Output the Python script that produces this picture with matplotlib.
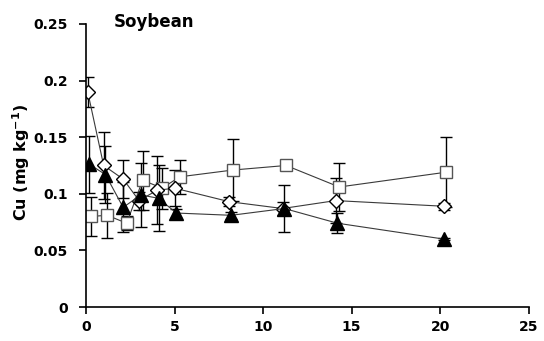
import matplotlib
matplotlib.use("Agg")
import matplotlib.pyplot as plt

plt.rcParams['font.family'] = ['DejaVu Sans']
plt.rcParams['font.weight'] = 'bold'
plt.rcParams['mathtext.default'] = 'bf'

x_diamond = [0.1, 1, 2.1, 3, 4, 5, 8.1, 11.1, 14.1, 20.2]
y_diamond = [0.190, 0.125, 0.113, 0.094, 0.103, 0.105, 0.093, 0.087, 0.094, 0.089]
e_diamond = [0.013, 0.030, 0.017, 0.008, 0.030, 0.016, 0.004, 0.006, 0.020, 0.003]

x_square = [0.3, 1.2, 2.3, 3.2, 4.3, 5.3, 8.3, 11.3, 14.3, 20.3]
y_square = [0.080, 0.081, 0.074, 0.112, 0.105, 0.115, 0.121, 0.125, 0.106, 0.119]
e_square = [0.017, 0.020, 0.006, 0.026, 0.018, 0.015, 0.027, 0.004, 0.021, 0.031]

x_tri = [0.2, 1.1, 2.1, 3.1, 4.1, 5.1, 8.2, 11.2, 14.2, 20.2]
y_tri = [0.126, 0.117, 0.088, 0.099, 0.096, 0.083, 0.081, 0.087, 0.074, 0.060]
e_tri = [0.025, 0.025, 0.022, 0.028, 0.029, 0.004, 0.003, 0.021, 0.009, 0.001]

fig = plt.figure(figsize=(5.44, 3.41), dpi=100)
ax = fig.add_axes([0.158, 0.0997, 0.814, 0.830])

common = dict(color='#3a3a3a', lw=0.8, ecolor='black', elinewidth=1.0,
              capsize=4, capthick=1.0)
ax.errorbar(x_square, y_square, yerr=e_square, marker='s', ms=9,
            mfc='white', mec='#555555', mew=1.0, **common)
ax.errorbar(x_diamond, y_diamond, yerr=e_diamond, marker='D', ms=7.5,
            mfc='white', mec='black', mew=1.0, **common)
ax.errorbar(x_tri, y_tri, yerr=e_tri, marker='^', ms=10.5,
            mfc='black', mec='black', **common)

ax.set_xlim(0, 25)
ax.set_ylim(0, 0.25)
ax.set_xticks([0, 5, 10, 15, 20, 25])
ax.set_yticks([0, 0.05, 0.1, 0.15, 0.2, 0.25])
ax.set_yticklabels(['0', '0.05', '0.1', '0.15', '0.2', '0.25'])
ax.spines['top'].set_visible(False)
ax.spines['right'].set_visible(False)
ax.spines['left'].set_linewidth(1.2)
ax.spines['bottom'].set_linewidth(1.2)
ax.tick_params(labelsize=10, length=5, width=1.2, direction='out')
ax.tick_params(axis='y', pad=8)
ax.tick_params(axis='x', pad=4)
for lab in ax.get_xticklabels() + ax.get_yticklabels():
    lab.set_fontweight('bold')
ax.set_ylabel('Cu (mg kg$^{-1}$)', fontsize=11.5, fontweight='bold')
ax.yaxis.set_label_coords(-0.122, 0.51)
fig.text(0.283, 0.935, 'Soybean', fontsize=12, fontweight='bold',
         ha='center', va='center')

fig.savefig('out.png', dpi=100)
